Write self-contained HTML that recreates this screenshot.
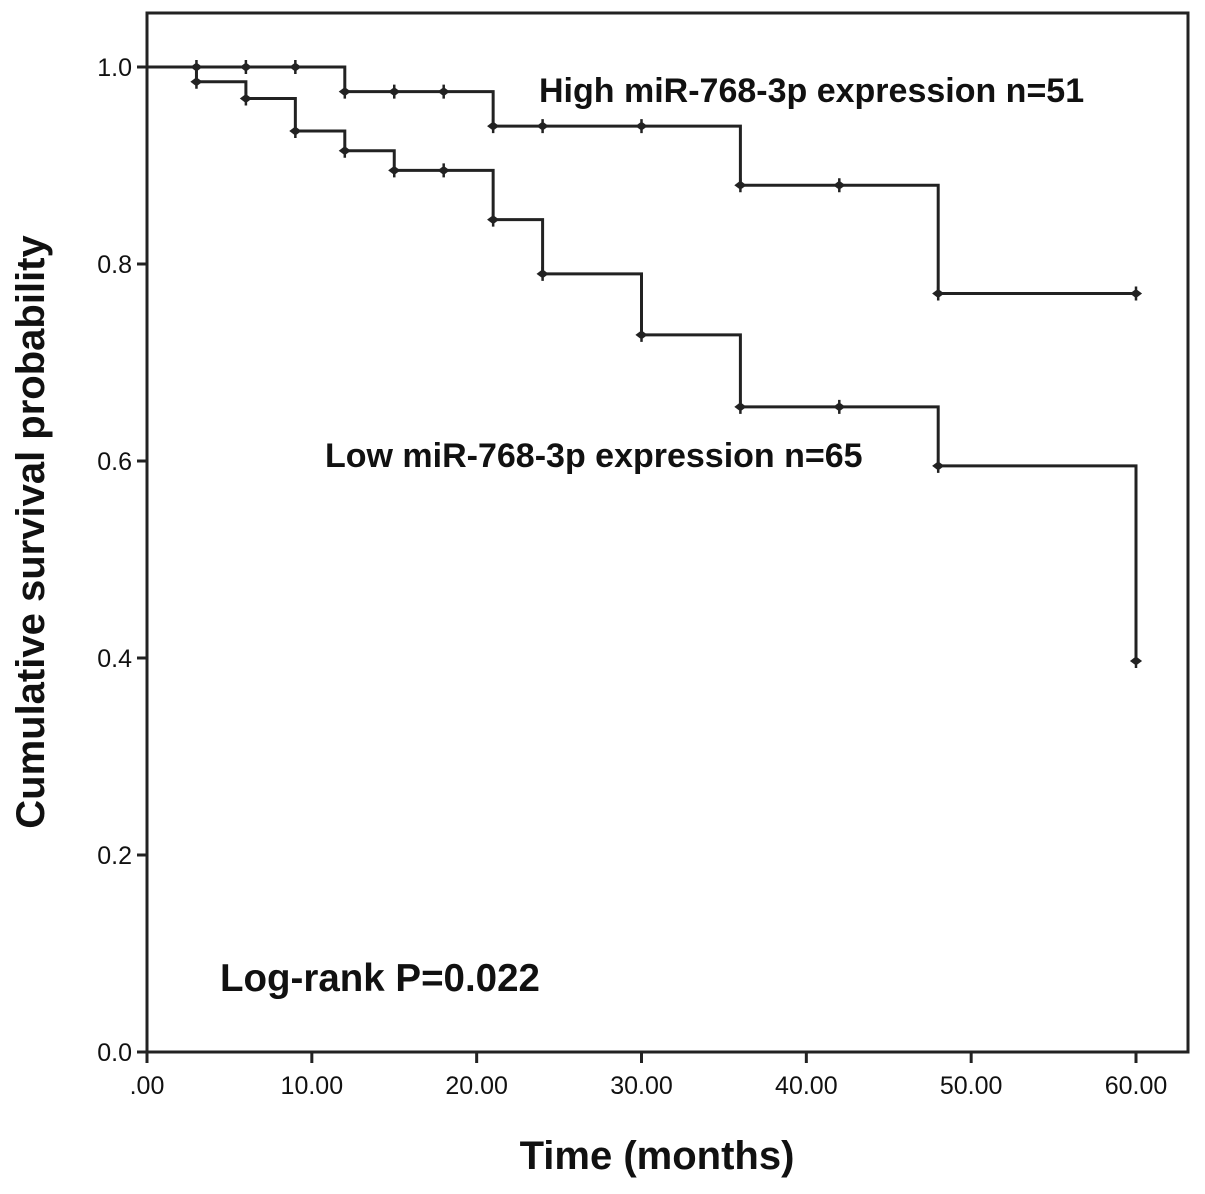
<!DOCTYPE html>
<html><head><meta charset="utf-8"><style>
body{margin:0;background:#fff;}
text{font-family:"Liberation Sans",Arial,sans-serif;fill:#111;}
</style></head><body>
<svg id="chart" width="1205" height="1189" viewBox="0 0 1205 1189" xmlns="http://www.w3.org/2000/svg">
<rect x="147" y="13" width="1041" height="1039" fill="none" stroke="#222" stroke-width="3"/>
<g id="axes"></g>
<g id="series"></g>
<text x="539" y="102" font-size="34" font-weight="bold">High miR-768-3p expression n=51</text>
<text x="325" y="467" font-size="34" font-weight="bold">Low miR-768-3p expression n=65</text>
<text x="220" y="991" font-size="38.5" font-weight="bold">Log-rank P=0.022</text>
<text x="657" y="1169" font-size="40" font-weight="bold" text-anchor="middle">Time (months)</text>
<text transform="translate(44,532) rotate(-90)" font-size="40" font-weight="bold" text-anchor="middle">Cumulative survival probability</text>
</svg>
<script>
const xTicks=[0,10,20,30,40,50,60];
const xTickLabels=[".00","10.00","20.00","30.00","40.00","50.00","60.00"];
const yTicks=[0,0.2,0.4,0.6,0.8,1.0];
const yTickLabels=["0.0","0.2","0.4","0.6","0.8","1.0"];
const highTimes=[0,12,21,36,48,60];
const highSurv=[1.0,0.975,0.94,0.88,0.77,0.77];
const highCensor=[3,6,9,12,15,18,21,24,30,36,42,48,60];
const lowTimes=[0,3,6,9,12,15,21,24,30,36,48,60];
const lowSurv=[1.0,0.985,0.968,0.935,0.915,0.895,0.845,0.79,0.728,0.655,0.595,0.397];
const lowCensor=[3,6,9,12,15,18,21,24,30,36,42,48,60];
const NS="http://www.w3.org/2000/svg";
const X=t=>147+t*(1136-147)/60;
const Y=v=>1052-v*(1052-67);
function mk(tag,attrs,parent){const e=document.createElementNS(NS,tag);for(const k in attrs)e.setAttribute(k,attrs[k]);parent.appendChild(e);return e;}
const axes=document.getElementById('axes');
xTicks.forEach((t,i)=>{
  const l=mk('line',{x1:X(t),x2:X(t),y1:1052,y2:1063,stroke:'#222','stroke-width':3},axes);
  
  
  const tx=mk('text',{x:X(t),y:1094,'font-size':25,'text-anchor':'middle'},axes);
  tx.textContent=xTickLabels[i];
  
  
});
yTicks.forEach((v,i)=>{
  const l=mk('line',{x1:137,x2:147,y1:Y(v),y2:Y(v),stroke:'#222','stroke-width':3},axes);
  
  
  const tx=mk('text',{x:132,y:Y(v)+9,'font-size':25,'text-anchor':'end'},axes);
  tx.textContent=yTickLabels[i];
  
  
});
const series=document.getElementById('series');
function stepAt(times,surv,t){let v=surv[0];for(let i=0;i<times.length;i++){if(times[i]<=t)v=surv[i];}return v;}
function draw(times,surv,cens,name){
  let d='M'+X(times[0])+' '+Y(surv[0]);
  for(let i=1;i<times.length;i++){d+=' H'+X(times[i])+' V'+Y(surv[i]);}
  const p=mk('path',{d:d,fill:'none',stroke:'#222','stroke-width':3},series);
  
  
  cens.forEach(t=>{
    const v=stepAt(times,surv,t);
    const x=X(t),y=Y(v);
    const m=mk('path',{d:'M'+x+' '+(y-7)+' V'+(y+7)+' M'+(x-4)+' '+y+' L'+x+' '+(y-3)+' L'+(x+4)+' '+y+' L'+x+' '+(y+3)+' Z',stroke:'#222','stroke-width':2.5,fill:'#222'},series);
    
    
  });
}
draw(highTimes,highSurv,highCensor,'high-expression');
draw(lowTimes,lowSurv,lowCensor,'low-expression');
</script>
</body></html>
